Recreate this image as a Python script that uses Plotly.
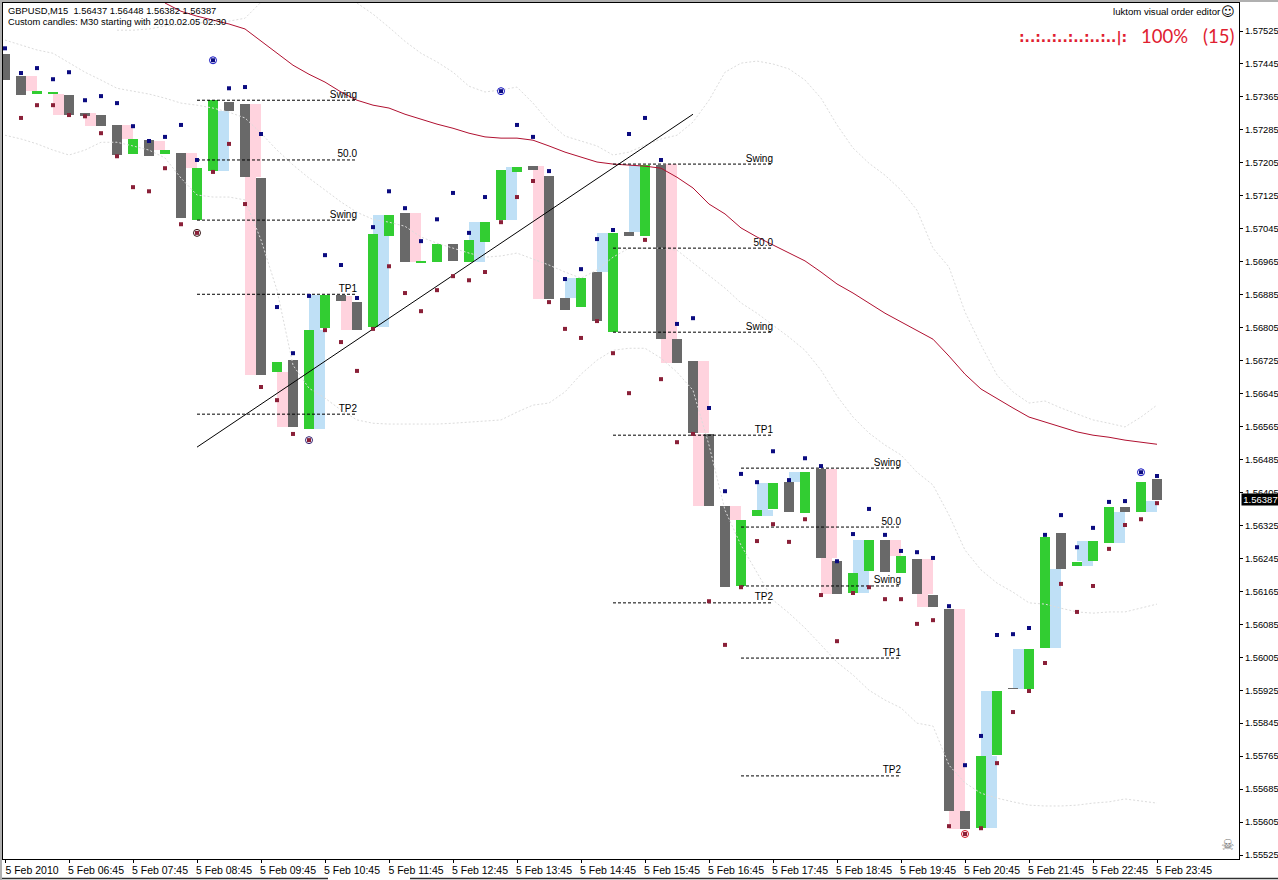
import plotly.graph_objects as go

# ---- chart data (prices) ----
bar_open = [1.57469,1.57416,1.57372,1.57372,1.57369,1.57326,1.57321,1.57297,1.57226,1.57260,1.57226,1.57229,1.57066,1.57185,1.57352,1.57348,1.57168,1.56697,1.56726,1.56559,1.56804,1.56884,1.56867,1.56806,1.57027,1.57083,1.56962,1.56964,1.57008,1.56964,1.57013,1.57066,1.57183,1.57197,1.57173,1.56877,1.56855,1.56940,1.56794,1.57037,1.57027,1.57200,1.56777,1.56724,1.56547,1.56372,1.56178,1.56348,1.56365,1.56430,1.56355,1.56462,1.56238,1.56161,1.56214,1.56289,1.56209,1.56243,1.56156,1.56122,1.55632,1.55590,1.55768,1.55930,1.55928,1.56027,1.56306,1.56226,1.56238,1.56282,1.56370,1.56357,1.56437]
bar_close = [1.57406,1.57369,1.57379,1.57377,1.57321,1.57318,1.57294,1.57224,1.57263,1.57221,1.57236,1.57071,1.57192,1.57357,1.57331,1.57170,1.56690,1.56721,1.56564,1.56799,1.56884,1.56869,1.56799,1.57032,1.57078,1.56964,1.56967,1.57008,1.56967,1.57018,1.57061,1.57187,1.57195,1.57187,1.56874,1.56848,1.56925,1.56821,1.57035,1.57027,1.57200,1.56777,1.56719,1.56549,1.56372,1.56175,1.56338,1.56362,1.56428,1.56357,1.56454,1.56246,1.56158,1.56209,1.56289,1.56212,1.56251,1.56158,1.56127,1.55632,1.55588,1.55765,1.55923,1.55928,1.56025,1.56297,1.56219,1.56236,1.56287,1.56370,1.56357,1.56430,1.56387]

m30_bar = [1,3,5,7,9,11,13,15,15,17,19,19,21,23,23,25,29,29,31,33,35,37,39,41,41,43,43,45,47,47,49,51,51,53,53,55,57,57,59,59,61,61,63,65,67,67,69,71]
m30_late = [1,0,0,1,1,1,1,1,0,0,1,0,0,1,0,1,0,1,1,0,0,0,0,1,0,1,0,1,0,1,0,1,0,0,1,1,1,0,1,0,1,0,0,1,0,1,1,1]
m30_open = [1.57416,1.57372,1.57326,1.57297,1.57258,1.57229,1.57185,1.57348,1.57170,1.56697,1.56559,1.56799,1.56882,1.56806,1.57032,1.57083,1.57013,1.56964,1.57066,1.57197,1.56877,1.56940,1.57037,1.57202,1.56777,1.56724,1.56547,1.56372,1.56362,1.56348,1.56430,1.56462,1.56246,1.56209,1.56161,1.56289,1.56243,1.56158,1.56122,1.55632,1.55590,1.55765,1.55928,1.56027,1.56238,1.56226,1.56282,1.56357]
m30_close = [1.57379,1.57321,1.57294,1.57263,1.57236,1.57192,1.57331,1.57170,1.56690,1.56564,1.56799,1.56884,1.56799,1.57032,1.57078,1.56964,1.57061,1.57013,1.57195,1.56874,1.56925,1.57035,1.57200,1.56777,1.56719,1.56549,1.56372,1.56338,1.56428,1.56362,1.56454,1.56246,1.56158,1.56289,1.56214,1.56251,1.56158,1.56127,1.55632,1.55588,1.55765,1.55923,1.56025,1.56219,1.56287,1.56238,1.56357,1.56384]

high_dots = [1.57483,1.57423,1.57435,1.57408,1.57425,1.57357,1.57367,1.57350,1.57294,1.57258,1.57268,1.57297,1.57212,1.57454,1.57386,1.57389,1.57275,1.56855,1.56743,1.56882,1.56981,1.56957,1.56877,1.57049,1.57136,1.57095,1.57015,1.57068,1.57132,1.57035,1.57122,1.57379,1.57297,1.57268,1.57185,1.56923,1.56947,1.57020,1.57042,1.57275,1.57314,1.57212,1.56814,1.56828,1.56610,1.56408,1.56450,1.56430,1.56505,1.56435,1.56488,1.56469,1.56238,1.56304,1.56365,1.56302,1.56263,1.56260,1.56246,1.56129,1.55743,1.55814,1.56059,1.56061,1.56076,1.56302,1.56350,1.56272,1.56319,1.56382,1.56384,1.56454,1.56445]
low_dots = [None,1.57314,1.57345,1.57345,1.57321,1.57318,1.57277,1.57221,1.57146,1.57136,1.57192,1.57056,1.57035,1.57183,1.57251,1.57105,1.56661,1.56629,1.56547,1.56532,1.56799,1.56770,1.56700,1.56802,1.56954,1.56889,1.56845,1.56896,1.56930,1.56920,1.56940,1.57061,1.57122,1.57161,1.56867,1.56802,1.56780,1.56821,1.56743,1.56646,1.57018,1.56680,1.56527,1.56547,1.56141,1.56035,1.56175,1.56287,1.56328,1.56285,1.56340,1.56156,1.56044,1.56161,1.56175,1.56146,1.56146,1.56086,1.56095,1.55595,1.55576,1.55590,1.55748,1.55872,1.55923,1.55991,1.56183,1.56115,1.56178,1.56268,1.56326,1.56340,1.56379]
ringed_highs = [13,31,71]
ringed_lows = [12,19,60]

ma_line = [None]*10 + [1.57593,1.57573,1.57561,1.57551,1.57542,1.57530,1.57500,1.57471,1.57442,1.57420,1.57401,1.57377,1.57357,1.57345,1.57338,1.57323,1.57311,1.57299,1.57289,1.57277,1.57268,1.57265,1.57265,1.57260,1.57246,1.57231,1.57219,1.57207,1.57202,1.57200,1.57197,1.57192,1.57170,1.57144,1.57105,1.57081,1.57047,1.57025,1.57005,1.56986,1.56967,1.56940,1.56911,1.56889,1.56865,1.56840,1.56819,1.56797,1.56777,1.56736,1.56692,1.56656,1.56632,1.56610,1.56588,1.56576,1.56564,1.56552,1.56544,1.56539,1.56532,1.56527,1.56522]
band_upper = [None]*7 + [1.57527,1.57527,1.57530,1.57537,1.57542,1.57544,1.57547,1.57549,1.57556,1.57595,None,None,None,None,None,1.57593,1.57566,1.57534,1.57500,1.57471,1.57450,1.57425,1.57391,1.57377,1.57382,1.57389,1.57350,1.57304,1.57270,1.57258,1.57246,1.57224,1.57231,1.57248,1.57263,1.57272,1.57304,1.57357,1.57425,1.57447,1.57452,1.57445,1.57433,1.57406,1.57362,1.57297,1.57241,1.57204,1.57175,1.57139,1.57090,1.56998,1.56952,1.56843,1.56763,1.56690,1.56649,1.56622,1.56627,1.56610,1.56595,1.56581,1.56573,1.56564,1.56588,1.56617]
band_mid = [1.57503,1.57491,1.57479,1.57471,1.57447,1.57425,1.57406,1.57386,1.57379,1.57372,1.57362,1.57350,1.57345,1.57338,1.57328,1.57314,1.57277,1.57236,1.57200,1.57168,1.57139,1.57110,1.57085,1.57068,1.57061,1.57051,1.57025,1.57010,1.56998,1.56986,1.56976,1.56979,1.56986,1.56971,1.56957,1.56940,1.56925,1.56945,1.56976,1.56998,1.56998,1.56998,1.56993,1.56962,1.56930,1.56901,1.56865,1.56840,1.56811,1.56782,1.56750,1.56702,1.56639,1.56588,1.56549,1.56520,1.56496,1.56454,1.56423,1.56350,1.56265,1.56217,1.56185,1.56163,1.56137,1.56134,1.56124,1.56115,1.56112,1.56115,1.56115,1.56124,1.56134]
band_lower = [1.57272,1.57263,1.57251,1.57236,1.57224,1.57236,1.57255,1.57255,1.57246,1.57236,1.57217,1.57168,1.57127,1.57122,1.57122,1.57115,1.57018,1.56896,1.56714,1.56658,1.56634,1.56605,1.56581,1.56573,1.56571,1.56571,1.56571,1.56571,1.56573,1.56576,1.56578,1.56581,1.56600,1.56617,1.56622,1.56649,1.56692,1.56726,1.56750,1.56755,1.56755,1.56731,1.56697,1.56653,1.56520,1.56362,1.56277,1.56212,1.56144,1.56112,1.56076,1.56035,1.55993,1.55962,1.55925,1.55901,1.55882,1.55845,1.55838,1.55743,1.55700,1.55675,1.55663,1.55654,1.55646,1.55644,1.55644,1.55646,1.55651,1.55654,1.55661,1.55656,1.55651]

fib_start = [12,38,46]
fib_end = [22,48,56]
fib_names = ["Swing","50.0","Swing","TP1","TP2"]
fib_levels = [
    [1.57357,1.57212,1.57066,1.56886,1.56595],
    [1.57202,1.56998,1.56794,1.56544,1.56137],
    [1.56464,1.56321,1.56178,1.56003,1.55717],
]
trend_bars = [12,43]
trend_prices = [1.56515,1.57323]

x_tick_bars = list(range(0,73,4))
x_tick_labels = ["5 Feb 2010","5 Feb 06:45","5 Feb 07:45","5 Feb 08:45","5 Feb 09:45","5 Feb 10:45","5 Feb 11:45","5 Feb 12:45","5 Feb 13:45","5 Feb 14:45","5 Feb 15:45","5 Feb 16:45","5 Feb 17:45","5 Feb 18:45","5 Feb 19:45","5 Feb 20:45","5 Feb 21:45","5 Feb 22:45","5 Feb 23:45"]
y_ticks = [1.55525,1.55605,1.55685,1.55765,1.55845,1.55925,1.56005,1.56085,1.56165,1.56245,1.56325,1.56405,1.56485,1.56565,1.56645,1.56725,1.56805,1.56885,1.56965,1.57045,1.57125,1.57205,1.57285,1.57365,1.57445,1.57525]
last_price = 1.56387

# ---- styling ----
FONT = "Liberation Sans"
GREEN, GREY, PINK, BLUE = "#32cd32", "#696969", "#ffd3de", "#bfe0f6"
NAVY, MAROON = "#0b0b80", "#8a2038"
W, H, L, R, T, B = 1278, 880, 3, 39, 3, 21
PW, PH = W-L-R, H-T-B
def px(x): return (x-L)/PW
def py(y): return (H-B-y)/PH

bars = list(range(len(bar_open)))
fig = go.Figure()

# M30 custom candles (behind the M15 candles)
fig.add_bar(
    x=[b + (0.656 if late else 0.344) for b, late in zip(m30_bar, m30_late)],
    base=[min(o, c) for o, c in zip(m30_open, m30_close)],
    y=[abs(o-c) for o, c in zip(m30_open, m30_close)],
    width=0.69,
    marker=dict(color=[BLUE if c > o else PINK for o, c in zip(m30_open, m30_close)], line_width=0),
    hoverinfo="skip", showlegend=False)
# M15 candles
fig.add_bar(
    x=bars,
    base=[min(o, c) for o, c in zip(bar_open, bar_close)],
    y=[abs(o-c) for o, c in zip(bar_open, bar_close)],
    width=0.625,
    marker=dict(color=[GREEN if c > o else GREY for o, c in zip(bar_open, bar_close)], line_width=0),
    hoverinfo="skip", showlegend=False)

for band in (band_upper, band_mid, band_lower):
    fig.add_scatter(x=bars, y=band, mode="lines", showlegend=False, hoverinfo="skip",
                    line=dict(color="#dcdcdc", width=1, dash="2px,2px"))

fig.add_scatter(x=bars, y=ma_line, mode="lines", showlegend=False, hoverinfo="skip",
                line=dict(color="#b01030", width=1))

for s, e, levels in zip(fib_start, fib_end, fib_levels):
    xs, ys = [], []
    for lv in levels:
        xs += [s, e, None]
        ys += [lv, lv, None]
    fig.add_scatter(x=xs, y=ys, mode="lines", showlegend=False, hoverinfo="skip",
                    line=dict(color="black", width=1, dash="3px,2px"))
    fig.add_scatter(x=[e]*len(levels), y=levels, mode="text", text=fib_names, textposition="top left",
                    textfont=dict(family=FONT, size=10, color="black"), showlegend=False, hoverinfo="skip")

fig.add_scatter(x=trend_bars, y=trend_prices, mode="lines", showlegend=False, hoverinfo="skip",
                line=dict(color="black", width=1))

fig.add_scatter(x=bars, y=high_dots, mode="markers", showlegend=False, hoverinfo="skip",
                marker=dict(symbol="square", size=4, color=NAVY))
fig.add_scatter(x=bars, y=low_dots, mode="markers", showlegend=False, hoverinfo="skip",
                marker=dict(symbol="square", size=4, color=MAROON))
fig.add_scatter(x=ringed_highs, y=[high_dots[i] for i in ringed_highs], mode="markers",
                showlegend=False, hoverinfo="skip",
                marker=dict(symbol="circle-open", size=7, color="#1010c0", line_width=1))
fig.add_scatter(x=ringed_lows, y=[low_dots[i] for i in ringed_lows], mode="markers",
                showlegend=False, hoverinfo="skip",
                marker=dict(symbol="circle-open", size=7, color=["#301010","#302070","#d01020"], line_width=1))

def note(text, x, y, size=9.35, color="black", anchor="left", family=FONT):
    fig.add_annotation(text=text, xref="paper", yref="paper", x=px(x), y=py(y), xanchor=anchor, yanchor="middle",
                       showarrow=False, font=dict(family=family, size=size, color=color), borderpad=0, borderwidth=0)

note("GBPUSD,M15  1.56437 1.56448 1.56382 1.56387", 8, 11.5)
note("Custom candles: M30 starting with 2010.02.05 02:30", 8, 21.5)
note("luktom visual order editor", 1221, 12, size=9.6, anchor="right")
note("\u263a", 1235, 12, size=13, anchor="right", family="DejaVu Sans")
note("<b>:..:..:..:..:..:..|:</b>", 1127, 38, size=14, color="#e02030", anchor="right", family="DejaVu Sans")
note("100%", 1141, 36, size=18.5, color="#e02030", family="Lato")
note("(15)", 1203, 36, size=18.5, color="#e02030", family="Lato")
note("\u2620", 1227, 845, size=15, color="#777777", anchor="center", family="DejaVu Sans")

fig.add_annotation(text="1.56387", xref="paper", yref="y", x=px(1241), y=last_price, xanchor="left", yanchor="middle",
                   showarrow=False, bgcolor="black", font=dict(family=FONT, size=9.5, color="white"),
                   borderpad=0, width=37, height=11, align="center")

# window chrome
for x0, x1 in ((0, 328), (410, 1278)):
    fig.add_shape(type="line", xref="paper", yref="paper", x0=px(x0), x1=px(x1), y0=py(878.5), y1=py(878.5),
                  line=dict(color="#303030", width=1.5))
fig.add_shape(type="line", xref="paper", yref="paper", x0=px(0), x1=px(1278), y0=py(1), y1=py(1), line=dict(color="#b0b0b0", width=2))
fig.add_shape(type="line", xref="paper", yref="paper", x0=px(1), x1=px(1), y0=py(0), y1=py(880), line=dict(color="#b0b0b0", width=2))

fig.update_layout(
    width=W, height=H, margin=dict(l=L, r=R, t=T, b=B, pad=0), autosize=False,
    paper_bgcolor="white", plot_bgcolor="white", barmode="overlay", showlegend=False, bargap=0,
    font=dict(family=FONT, size=10.5, color="black"),
    xaxis=dict(range=[-0.125, 77.125], tickmode="array", tickvals=x_tick_bars, ticktext=x_tick_labels, automargin=False,
               ticks="outside", ticklen=3, tickwidth=1, tickcolor="black", showgrid=False, zeroline=False,
               showline=True, mirror=True, linecolor="black", linewidth=1, ticklabelshift=27, ticklabelstandoff=-2,
               tickfont=dict(family=FONT, size=10.5), tickangle=0),
    yaxis=dict(range=[1.555153, 1.57593], side="right", tickmode="array", tickvals=y_ticks, automargin=False,
               ticktext=[f"{v:.5f}" for v in y_ticks], ticks="outside", ticklen=3, tickwidth=1, tickcolor="black",
               showgrid=False, zeroline=False, showline=True, mirror=True, linecolor="black", linewidth=1,
               tickfont=dict(family=FONT, size=9.4)),
)

fig.write_html("out.html", config={"displayModeBar": False}, post_script="document.body.style.margin='0';")
